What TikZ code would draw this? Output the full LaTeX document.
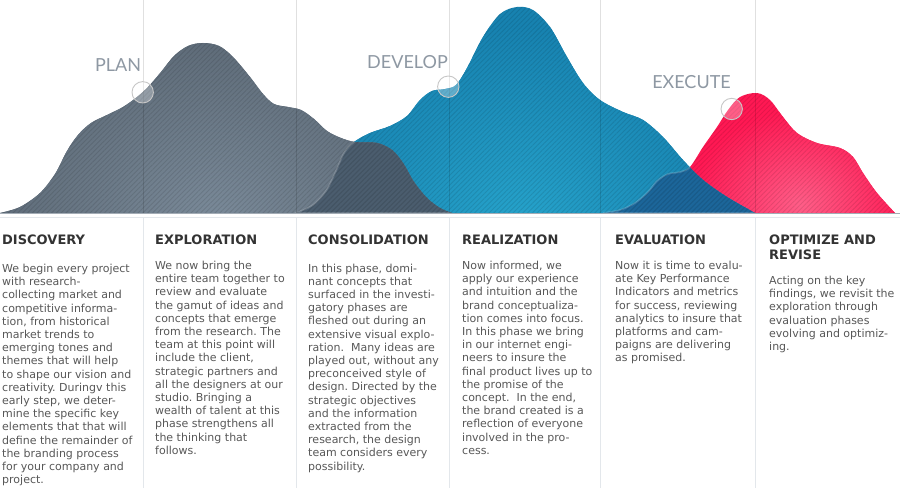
\documentclass[tikz,border=0pt]{standalone}
\usepackage{fontspec}
\setmainfont{DejaVu Sans}
\newfontfamily\phasefont{Lato}
\usetikzlibrary{patterns.meta}

\definecolor{slate}{HTML}{5D6A77}
\definecolor{slatelight}{HTML}{7A8A99}
\definecolor{slatedeep}{HTML}{4B5D6E}
\definecolor{ocean}{HTML}{1782B0}
\definecolor{oceanlight}{HTML}{26A3CB}
\definecolor{oceandeep}{HTML}{1C669A}
\definecolor{rose}{HTML}{FF1853}
\definecolor{roselight}{HTML}{FF5E88}
\definecolor{labelgray}{HTML}{8E98A3}
\definecolor{headink}{HTML}{333333}
\definecolor{bodyink}{HTML}{585858}
\definecolor{rulegray}{HTML}{E3E7EB}
\definecolor{basegray}{HTML}{A3ACB5}

% mountain outlines, in pixel-like units with y growing downwards
\def\planhill{(0,213) plot[smooth,tension=0.55] coordinates {(0,213) (20,207) (40,193) (55,174) (67,151) (78,135) (91,123) (107,115) (123,107) (137,97) (148,87) (161,72) (174,56) (188,46) (203,43) (219,46) (233,57) (250,77) (263,94) (274,104) (288,107) (301,110) (314,119) (327,131) (341,138) (355,142) (377,143) (392,150) (403,163) (414,182) (427,198) (440,208) (452,213)} -- cycle}
\def\develophill{(296,213) plot[smooth,tension=0.55] coordinates {(296,213) (313,205) (326,191) (336,171) (344,153) (354,142) (370,133) (390,126) (407,116) (420,100) (432,91) (445,89) (456,85) (467,68) (483,37) (500,14) (517,7) (533,10) (550,27) (567,57) (583,83) (600,100) (623,112) (643,120) (663,137) (683,160) (703,180) (727,197) (755,213)} -- cycle}
\def\executehill{(603,213) plot[smooth,tension=0.55] coordinates {(603,213) (620,210) (635,203) (648,192) (657,181) (668,174) (680,172) (690,167) (703,147) (717,127) (728,110) (740,97) (757,93) (770,100) (783,117) (797,133) (817,143) (840,148) (853,157) (863,173) (877,193) (895,213)} -- cycle}

\tikzset{
  stripes/.style={pattern={Lines[angle=45,distance=3.4pt,line width=0.9pt]},pattern color=black},
  glow/.style={draw=white,draw opacity=0.18,line width=1.6pt},
  colrule/.style={draw=rulegray,line width=1pt},
  hillrule/.style={draw=black,draw opacity=0.12,line width=1pt},
  marker/.style={circle,minimum size=21.4pt,inner sep=0,draw=black!22,line width=0.9pt,fill=white,fill opacity=0.3},
  phaselabel/.style={text=labelgray,font=\phasefont\fontsize{18}{18}\selectfont,inner sep=0},
  headtext/.style={anchor=base west,inner sep=0,text=headink,font=\bfseries\fontsize{13}{15}\selectfont},
  bodytext/.style={anchor=base west,inner sep=0,text=bodyink,font=\fontsize{11}{13.2}\selectfont},
}

\begin{document}
\begin{tikzpicture}[x=1pt,y=-1pt]
\useasboundingbox (0,0) rectangle (900,495);
\fill[white] (0,0) rectangle (900,495);
\frenchspacing

% column dividers in the text area
\foreach \cx in {143,296,449,600,755}
  \draw[colrule] (\cx,217) -- (\cx,488);

% EXECUTE hill (back)
\fill[rose] \executehill;
\begin{scope}
  \clip \executehill;
  \shade[inner color=roselight,outer color=rose] (800,205) ellipse (110 and 95);
\end{scope}

% DEVELOP hill (middle)
\fill[ocean] \develophill;
\begin{scope}
  \clip \develophill;
  \shade[inner color=oceanlight,outer color=ocean] (520,225) ellipse (230 and 200);
  \fill[oceandeep] \executehill;
  \draw[glow] \executehill;
\end{scope}

% PLAN hill (front)
\fill[slate] \planhill;
\begin{scope}
  \clip \planhill;
  \shade[inner color=slatelight,outer color=slate] (215,220) ellipse (230 and 190);
  \fill[slatedeep] \develophill;
  \draw[glow] \develophill;
\end{scope}

% fine diagonal hatching over all hills
\begin{scope}[transparency group,opacity=0.1]
  \fill[stripes] \executehill;
  \fill[stripes] \develophill;
  \fill[stripes] \planhill;
\end{scope}

% dividers crossing the hills
\foreach \cx in {143,296,449,600,755}
  \draw[hillrule] (\cx,0) -- (\cx,213);

% ground lines
\draw[basegray,line width=1pt] (0,213.8) -- (900,213.8);
\draw[rulegray,line width=1pt] (0,217.5) -- (900,217.5);

% phase markers and labels
\node[marker] (mplan) at (142.7,92.3) {};
\node[marker] (mdevelop) at (448.3,86.7) {};
\node[marker] (mexecute) at (731.7,109) {};
\node[phaselabel] (plan) at (118,65) {PLAN};
\node[phaselabel] (develop) at (407.5,62) {DEVELOP};
\node[phaselabel] (execute) at (691.5,82) {EXECUTE};

% column headings
\node[headtext] (h1) at (2,244.7) {DISCOVERY};
\node[headtext] (h2) at (155,244.7) {EXPLORATION};
\node[headtext] (h3) at (308,244.7) {CONSOLIDATION};
\node[headtext] (h4) at (462,244.7) {REALIZATION};
\node[headtext] (h5) at (615,244.7) {EVALUATION};
\node[headtext] (h6) at (769,244.7) {\parbox[t]{140pt}{\raggedright OPTIMIZE AND\\REVISE}};

% column texts
\node[bodytext] (b1) at (2,272.5) {\parbox[t]{150pt}{\raggedright
We begin every project\\
with research-\\
collecting market and\\
competitive informa-\\
tion, from historical\\
market trends to\\
emerging tones and\\
themes that will help\\
to shape our vision and\\
creativity. Duringv this\\
early step, we deter-\\
mine the specific key\\
elements that that will\\
define the remainder of\\
the branding process\\
for your company and\\
project.}};

\node[bodytext] (b2) at (155,269.5) {\parbox[t]{150pt}{\raggedright
We now bring the\\
entire team together to\\
review and evaluate\\
the gamut of ideas and\\
concepts that emerge\\
from the research. The\\
team at this point will\\
include the client,\\
strategic partners and\\
all the designers at our\\
studio. Bringing a\\
wealth of talent at this\\
phase strengthens all\\
the thinking that\\
follows.}};

\node[bodytext] (b3) at (308,272) {\parbox[t]{150pt}{\raggedright
In this phase, domi-\\
nant concepts that\\
surfaced in the investi-\\
gatory phases are\\
fleshed out during an\\
extensive visual explo-\\
ration.\ \ Many ideas are\\
played out, without any\\
preconceived style of\\
design. Directed by the\\
strategic objectives\\
and the information\\
extracted from the\\
research, the design\\
team considers every\\
possibility.}};

\node[bodytext] (b4) at (462,269.5) {\parbox[t]{150pt}{\raggedright
Now informed, we\\
apply our experience\\
and intuition and the\\
brand conceptualiza-\\
tion comes into focus.\\
In this phase we bring\\
in our internet engi-\\
neers to insure the\\
final product lives up to\\
the promise of the\\
concept.\ \ In the end,\\
the brand created is a\\
reflection of everyone\\
involved in the pro-\\
cess.}};

\node[bodytext] (b5) at (615,269.5) {\parbox[t]{150pt}{\raggedright
Now it is time to evalu-\\
ate Key Performance\\
Indicators and metrics\\
for success, reviewing\\
analytics to insure that\\
platforms and cam-\\
paigns are delivering\\
as promised.}};

\node[bodytext] (b6) at (769,284.5) {\parbox[t]{150pt}{\raggedright
Acting on the key\\
findings, we revisit the\\
exploration through\\
evaluation phases\\
evolving and optimiz-\\
ing.}};
\end{tikzpicture}
\end{document}
